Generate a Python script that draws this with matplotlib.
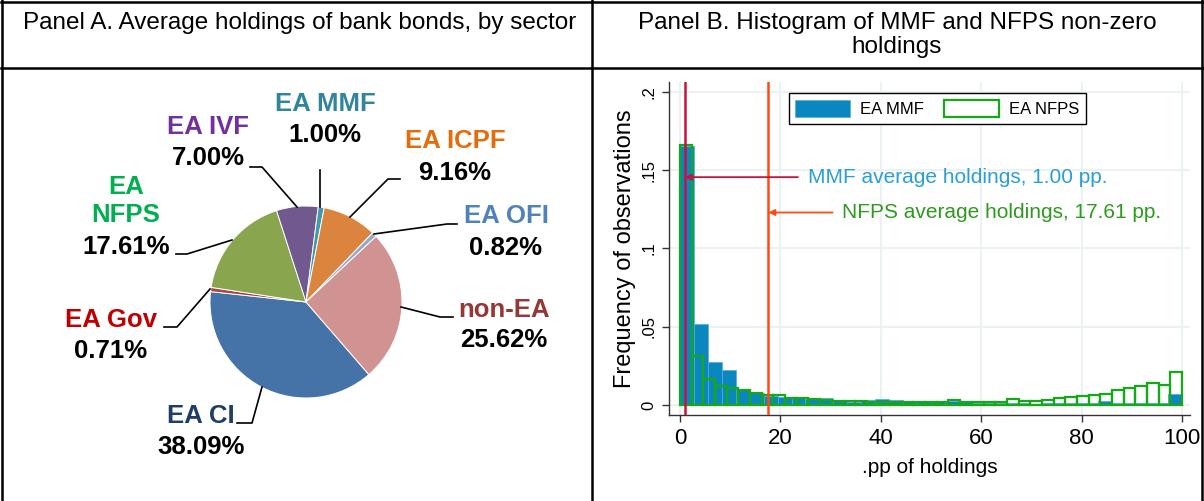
import numpy as np
import matplotlib
matplotlib.use('Agg')
import matplotlib.pyplot as plt
from matplotlib.patches import Patch

plt.rcParams['font.family'] = ['Liberation Sans', 'DejaVu Sans']

# ---------------- data ----------------
sectors = ['EA CI', 'EA Gov', 'EA NFPS', 'EA IVF', 'EA MMF', 'EA ICPF', 'EA OFI', 'non-EA']
shares = [38.09, 0.71, 17.61, 7.00, 1.00, 9.16, 0.82, 25.62]
slice_colors = ['#4572A7', '#AA4643', '#89A54E', '#71588F', '#4198AF', '#DB843D', '#93A9CF', '#D19392']
label_colors = ['#1F3D66', '#C00000', '#00B050', '#7030A0', '#31859C', '#E46C0A', '#4F81BD', '#953735']
label_texts = ['EA CI', 'EA Gov', 'EA\nNFPS', 'EA IVF', 'EA MMF', 'EA ICPF', 'EA OFI', 'non-EA']

mmf_freq = [0.1655, 0.0515, 0.0272, 0.0224, 0.0105, 0.0078, 0.0058, 0.0050, 0.0047, 0.0037,
            0.0043, 0.0030, 0.0019, 0.0032, 0.0038, 0.0032, 0.0028, 0.0026, 0.0026, 0.0024,
            0.0020, 0.0015, 0.0013, 0.0015, 0.0010, 0.0008, 0.0013, 0.0013, 0.0012, 0.0014,
            0.0028, 0.0012, 0.0010, 0.0010, 0.0010, 0.0070]
nfps_freq = [0.1660, 0.0310, 0.0168, 0.0120, 0.0110, 0.0097, 0.0074, 0.0062, 0.0065, 0.0045,
             0.0045, 0.0036, 0.0035, 0.0027, 0.0026, 0.0024, 0.0022, 0.0022, 0.0021, 0.0020,
             0.0020, 0.0020, 0.0019, 0.0032, 0.0016, 0.0016, 0.0016, 0.0022, 0.0040, 0.0028,
             0.0028, 0.0035, 0.0047, 0.0048, 0.0060, 0.0062, 0.0068, 0.0093, 0.0110, 0.0124,
             0.0138, 0.0128, 0.0208]
mmf_mean = 1.00
nfps_mean = 17.61
xticks = [0, 20, 40, 60, 80, 100]
yticks = [0, 0.05, 0.10, 0.15, 0.20]
ytick_labels = ['0', '.05', '.1', '.15', '.2']

# ---------------- figure ----------------
W, H = 1204, 501
fig = plt.figure(figsize=(W / 100, H / 100), dpi=100)

ov = fig.add_axes([0, 0, 1, 1])
ov.axis('off')


def Y(y):
    return H - y


# table borders
blw = 1.8
ov.plot([1, W - 1], [Y(1.5), Y(1.5)], color='black', lw=blw, clip_on=False)
ov.plot([1, W - 1], [Y(68), Y(68)], color='black', lw=blw, clip_on=False)
ov.plot([1.5, 1.5], [Y(0), Y(H)], color='black', lw=blw, clip_on=False)
ov.plot([W - 2, W - 2], [Y(0), Y(H)], color='black', lw=blw, clip_on=False)
ov.plot([592, 592], [Y(0), Y(H)], color='black', lw=blw, clip_on=False)

ov.text(300, Y(23), 'Panel A. Average holdings of bank bonds, by sector', ha='center', va='center', fontsize=17.5)
ov.text(897, Y(23), 'Panel B. Histogram of MMF and NFPS non-zero', ha='center', va='center', fontsize=17.5)
ov.text(897, Y(47), 'holdings', ha='center', va='center', fontsize=17.5)

# pie
ov.pie(shares, colors=slice_colors, startangle=90 - 139.1, counterclock=False,
       center=(306, Y(302)), radius=96,
       wedgeprops=dict(edgecolor='white', linewidth=0.7))
ov.set_aspect('auto')
ov.set_xlim(0, W)
ov.set_ylim(0, H)
ov.axis('off')

label_pos = {
    'EA CI': (201, 416, 447),
    'EA Gov': (111, 320, 351),
    'EA NFPS': (126, 201, 247),
    'EA IVF': (208, 127, 158),
    'EA MMF': (325, 104, 135),
    'EA ICPF': (455, 141, 173),
    'EA OFI': (506, 216, 248),
    'non-EA': (504, 310, 340),
}
leaders = {
    'EA CI': [(237, 423), (252, 423), (262, 387)],
    'EA Gov': [(164, 327), (177, 327), (210, 289)],
    'EA NFPS': [(176, 254), (187, 254), (232, 240)],
    'EA IVF': [(250, 167), (262, 167), (297, 207)],
    'EA MMF': [(320, 170), (320, 207)],
    'EA ICPF': [(400, 179), (388, 179), (350, 217)],
    'EA OFI': [(457, 224), (447, 224), (374, 234)],
    'non-EA': [(453, 317), (440, 317), (401, 307)],
}
for name, txt, col, val in zip(sectors, label_texts, label_colors, shares):
    x, y1, y2 = label_pos[name]
    ov.text(x, Y(y1), txt, ha='center', va='center', fontsize=18.5, fontweight='bold',
            color=col, linespacing=1.2)
    ov.text(x, Y(y2), f'{val:.2f}%', ha='center', va='center', fontsize=18.5,
            fontweight='bold', color='black')
    pts = leaders[name]
    ov.plot([p[0] for p in pts], [Y(p[1]) for p in pts], color='black', lw=1.2)

# histogram
ax = fig.add_axes([669 / W, 1 - 415 / H, (1190 - 669) / W, (415 - 82) / H])
mmf_edges = np.linspace(0, 100, len(mmf_freq) + 1)
nfps_edges = np.linspace(0, 100, len(nfps_freq) + 1)
ax.bar(mmf_edges[:-1], mmf_freq, width=np.diff(mmf_edges), align='edge',
       color='#0A87BF', edgecolor='#55AEDA', linewidth=0.5, zorder=2)
ax.bar(nfps_edges[:-1], nfps_freq, width=np.diff(nfps_edges), align='edge',
       fill=False, edgecolor='#17A817', linewidth=1.6, zorder=3)

mmf_col = '#C8143C'
nfps_col = '#FF4A10'
ax.axvline(mmf_mean, color=mmf_col, lw=1.8, zorder=4)
ax.axvline(nfps_mean, color=nfps_col, lw=1.8, zorder=4)
ax.annotate('', xy=(mmf_mean, 0.1456), xytext=(23.5, 0.1456),
            arrowprops=dict(arrowstyle='-|>', color=mmf_col, lw=1.3, mutation_scale=9,
                            shrinkA=0, shrinkB=0), zorder=5)
ax.text(25.6, 0.1456, f'MMF average holdings, {mmf_mean:.2f} pp.', color='#2A9ED8',
        fontsize=15, va='center', ha='left')
ax.annotate('', xy=(nfps_mean, 0.123), xytext=(30.4, 0.123),
            arrowprops=dict(arrowstyle='-|>', color=nfps_col, lw=1.3, mutation_scale=9,
                            shrinkA=0, shrinkB=0), zorder=5)
ax.text(32.3, 0.123, f'NFPS average holdings, {nfps_mean:.2f} pp.', color='#2E9A1E',
        fontsize=15, va='center', ha='left')

ax.set_xlim(-2.19, 101.6)
ax.set_ylim(-0.0064, 0.2064)
ax.set_xticks(xticks)
ax.set_yticks(yticks)
ax.set_yticklabels(ytick_labels, rotation=90, va='center', fontsize=12)
ax.tick_params(axis='x', labelsize=16)
ax.tick_params(direction='out', length=5, width=1, color='#333333', pad=4)
for s in ['top', 'right']:
    ax.spines[s].set_visible(False)
for s in ['left', 'bottom']:
    ax.spines[s].set_color('#333333')
    ax.spines[s].set_linewidth(1.0)
ax.grid(True, color='#EAF2F3', lw=1.5)
ax.set_axisbelow(True)
ax.set_xlabel('.pp of holdings', fontsize=15, labelpad=7)
ax.set_ylabel('Frequency of observations', fontsize=17, labelpad=4)

handles = [Patch(facecolor='#0A87BF', edgecolor='#55AEDA', linewidth=0.5),
           Patch(facecolor='white', edgecolor='#17A817', linewidth=1.6)]
leg = ax.legend(handles, ['EA MMF', 'EA NFPS'], ncol=2, loc='upper left',
                bbox_to_anchor=(0.23, 0.967), frameon=True, fancybox=False,
                edgecolor='black', framealpha=1, fontsize=12, handlelength=3.3,
                handleheight=1.25, handletextpad=0.6, columnspacing=1.2,
                borderpad=0.4, borderaxespad=0)
leg.get_frame().set_linewidth(1.0)

fig.savefig('out.png', dpi=100)
